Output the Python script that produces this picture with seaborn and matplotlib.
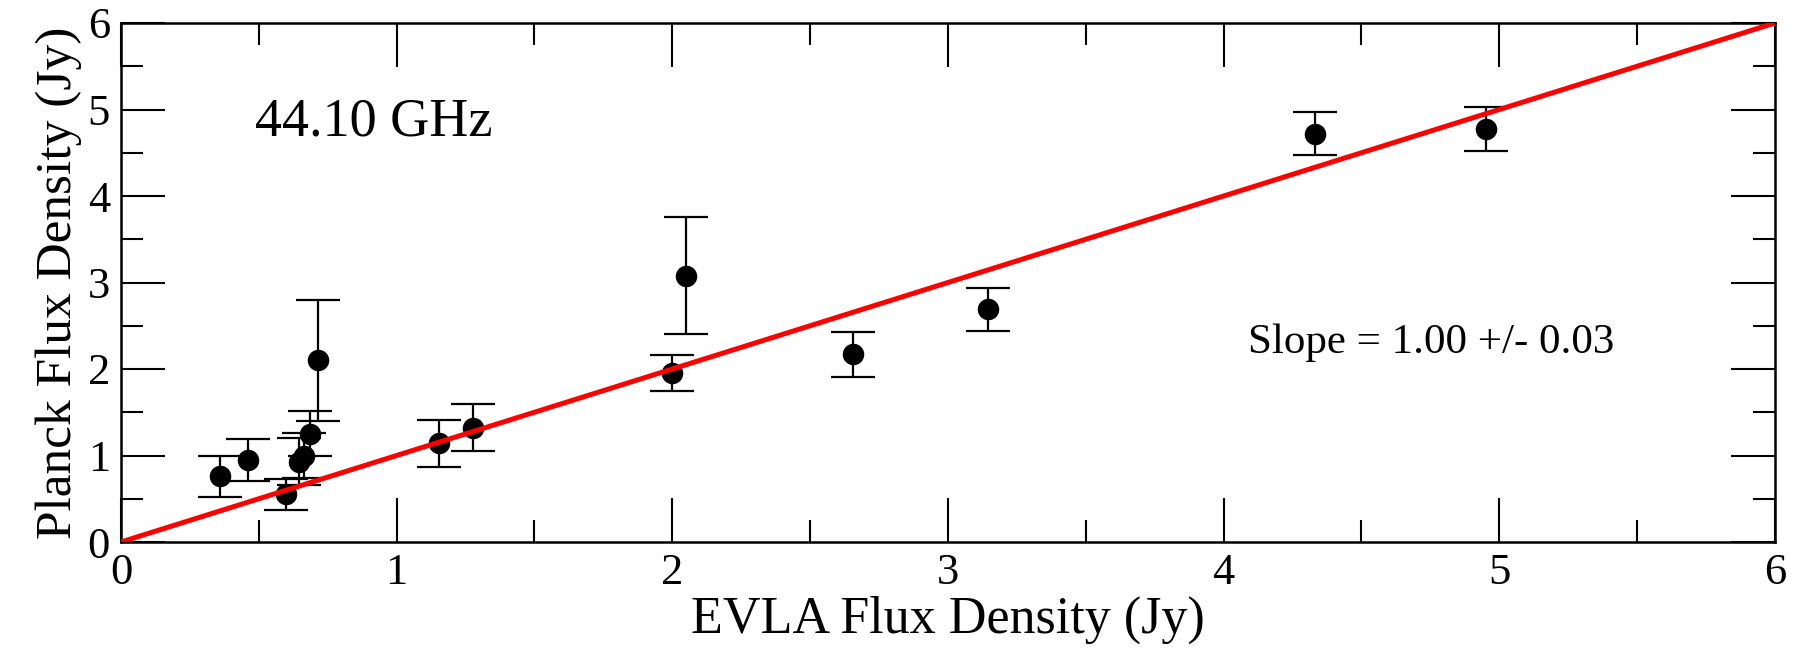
import numpy as np
import pandas as pd
import matplotlib
matplotlib.use("Agg")
import matplotlib.pyplot as plt
import seaborn as sns
from matplotlib.ticker import MultipleLocator

# ---- data ----
evla_flux = [0.36, 0.46, 0.60, 0.645, 0.665, 0.685, 0.716, 1.155, 1.276,
             2.00, 2.05, 2.655, 3.145, 4.33, 4.95]
planck_flux = [0.76, 0.95, 0.55, 0.93, 1.00, 1.25, 2.10, 1.14, 1.32,
               1.95, 3.08, 2.17, 2.69, 4.72, 4.77]
planck_err = [0.24, 0.24, 0.18, 0.27, 0.26, 0.26, 0.70, 0.27, 0.27,
              0.21, 0.675, 0.26, 0.25, 0.25, 0.255]
fit_x = [0.0, 6.0]
fit_slope = 1.00
freq_label = "44.10 GHz"
slope_label = "Slope = 1.00 +/- 0.03"
x_ticks = [0, 1, 2, 3, 4, 5, 6]
y_ticks = [0, 1, 2, 3, 4, 5, 6]

df = pd.DataFrame({"evla": evla_flux, "planck": planck_flux, "err": planck_err})
fit = pd.DataFrame({"x": fit_x, "y": [fit_slope * v for v in fit_x]})

sns.set_theme(style="white")
plt.rcParams["font.family"] = ["Liberation Serif", "DejaVu Serif"]
plt.rcParams["text.color"] = "black"
plt.rcParams["axes.labelcolor"] = "black"
plt.rcParams["xtick.color"] = "black"
plt.rcParams["ytick.color"] = "black"

fig = plt.figure(figsize=(17.99, 6.52), dpi=100)
ax = fig.add_axes([121 / 1799, 1 - 542 / 652, (1775 - 121) / 1799, (542 - 23) / 652])

ax.errorbar(df["evla"], df["planck"], yerr=df["err"], fmt="none",
            ecolor="black", elinewidth=1.6, capsize=16, capthick=1.6, zorder=2)
sns.scatterplot(data=df, x="evla", y="planck", ax=ax, color="black", s=240,
                edgecolor="black", linewidth=0, zorder=3, legend=False)
sns.lineplot(data=fit, x="x", y="y", ax=ax, color="#ff0000", linewidth=3.6,
             zorder=4, legend=False)

ax.set_xlim(0, 6)
ax.set_ylim(0, 6)
ax.set_xticks(x_ticks)
ax.set_yticks(y_ticks)
ax.xaxis.set_minor_locator(MultipleLocator(0.5))
ax.yaxis.set_minor_locator(MultipleLocator(0.5))
ax.tick_params(which="both", direction="in", top=True, right=True,
               bottom=True, left=True, color="black", width=1.5)
ax.tick_params(which="major", length=32, labelsize=32, pad=8,
               labelcolor="black")
ax.tick_params(which="minor", length=16)
for s in ax.spines.values():
    s.set_color("black")
    s.set_linewidth(1.8)

ax.set_xlabel("EVLA Flux Density (Jy)", fontsize=37.5, labelpad=2, color="black")
ax.set_ylabel("Planck Flux Density (Jy)", fontsize=37, labelpad=4, color="black")

ax.text(0.486, 4.70, freq_label, fontsize=39, color="black", ha="left", va="baseline")
ax.text(4.09, 2.18, slope_label, fontsize=31, color="black", ha="left", va="baseline")

fig.savefig("out.png", dpi=100, facecolor="white")
